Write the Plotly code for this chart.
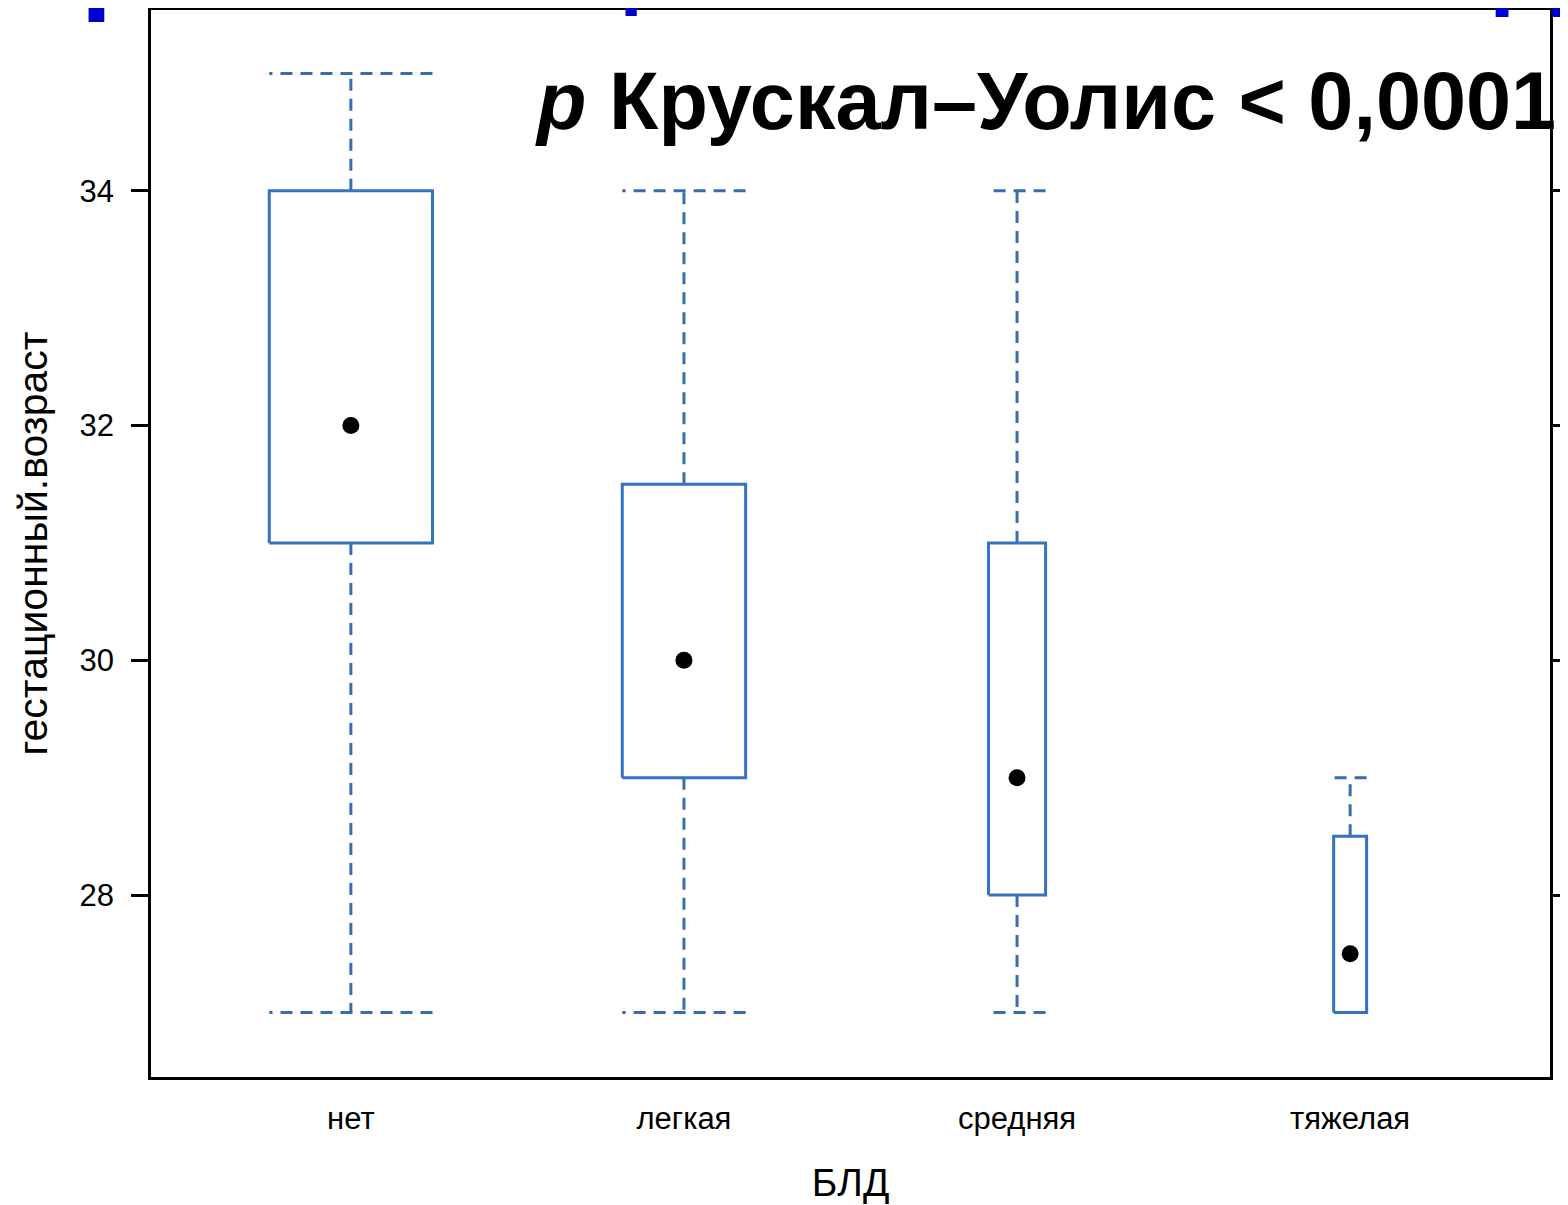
import math
import plotly.graph_objects as go

# ---- data ----
categories = ["нет", "легкая", "средняя", "тяжелая"]
group_n = [49, 28, 6, 2]              # estimated group sizes (varwidth boxes)
lower_whisker = [27, 27, 27, 27]
q1 = [31, 29, 28, 27]
median = [32, 30, 29, 27.5]
q3 = [34, 31.5, 31, 28.5]
upper_whisker = [35, 34, 34, 29]
y_ticks = [28, 30, 32, 34]

# ---- style ----
BOX_COLOR = "#3473C2"
WHISK_COLOR = "#3A6DAC"
MAX_BOX_WIDTH = 0.49
DASH = "12px,8px"
PAGE_OFFSET = 8          # default body margin of the html page
W, H = 1568 - PAGE_OFFSET, 1205 - PAGE_OFFSET

xs = list(range(len(categories)))
max_sqrt = max(math.sqrt(n) for n in group_n)
widths = [MAX_BOX_WIDTH * math.sqrt(n) / max_sqrt for n in group_n]

box_x, box_y = [], []
wh_x, wh_y = [], []
for c, w, a, b, lo, hi in zip(xs, widths, q1, q3, lower_whisker, upper_whisker):
    l, r = c - w / 2, c + w / 2
    box_x += [l, r, r, l, l, None]
    box_y += [a, a, b, b, a, None]
    if hi > b:
        wh_x += [c, c, None, r, l, None]
        wh_y += [b, hi, None, hi, hi, None]
    if lo < a:
        wh_x += [c, c, None, r, l, None]
        wh_y += [a, lo, None, lo, lo, None]

fig = go.Figure()
fig.add_trace(go.Scatter(x=wh_x, y=wh_y, mode="lines",
                         line=dict(color=WHISK_COLOR, width=3, dash=DASH),
                         hoverinfo="skip", showlegend=False))
fig.add_trace(go.Scatter(x=box_x, y=box_y, mode="lines",
                         line=dict(color=BOX_COLOR, width=3),
                         hoverinfo="skip", showlegend=False))
fig.add_trace(go.Scatter(x=xs, y=median, mode="markers",
                         marker=dict(color="black", size=17, symbol="circle"),
                         hoverinfo="skip", showlegend=False))

# plot frame in page pixels: x 151..1550, y 10..1077
ml = 151 - PAGE_OFFSET
mt = 10 - PAGE_OFFSET
mr = W - (1550 - PAGE_OFFSET)
mb = H - (1077 - PAGE_OFFSET)
plot_h = H - mt - mb
plot_w = W - ml - mr

def ypix(p):
    return 1 - (p - PAGE_OFFSET - mt) / plot_h

def xpix(p):
    return (p - PAGE_OFFSET - ml) / plot_w

fig.update_layout(
    width=W, height=H,
    margin=dict(l=ml, r=mr, t=mt, b=mb, autoexpand=False),
    paper_bgcolor="white", plot_bgcolor="white",
    font=dict(family="Liberation Sans, Arial, sans-serif", color="black"),
    xaxis=dict(
        range=[-0.6, 3.6], tickmode="array", tickvals=xs, ticktext=categories,
        ticks="", showgrid=False, zeroline=False, automargin=False,
        showline=True, linecolor="black", linewidth=2.6, mirror=True,
        tickfont=dict(size=31, color="black"), ticklabelstandoff=12,
        title=dict(text="БЛД", font=dict(size=39, color="black"), standoff=34),
    ),
    yaxis=dict(
        range=[26.45, 35.54], tickmode="array", tickvals=y_ticks,
        ticks="outside", ticklen=17, tickwidth=2.6, tickcolor="black",
        showgrid=False, zeroline=False, automargin=False,
        showline=True, linecolor="black", linewidth=2.6, mirror="ticks",
        tickfont=dict(size=31, color="black"), ticklabelstandoff=11,
        title=dict(text="гестационный.возраст", font=dict(size=41, color="black"), standoff=20),
    ),
    annotations=[
        dict(text="<b><i>p</i> Крускал–Уолис &lt; 0,0001</b>",
             xref="paper", yref="paper", x=xpix(533), y=ypix(101),
             xanchor="left", yanchor="middle", showarrow=False,
             font=dict(family="Liberation Sans, Arial, sans-serif", size=81, color="black"),
             ),
        dict(text="<b>Срок гестации и тяжесть БЛД</b>",
             xref="paper", yref="paper", x=xpix(13), y=ypix(26),
             xanchor="left", yanchor="bottom", showarrow=False,
             font=dict(family="DejaVu Sans, Verdana, sans-serif", size=90, color="#0000CC"),
             ),
    ],
)

fig.write_html("out.html")
